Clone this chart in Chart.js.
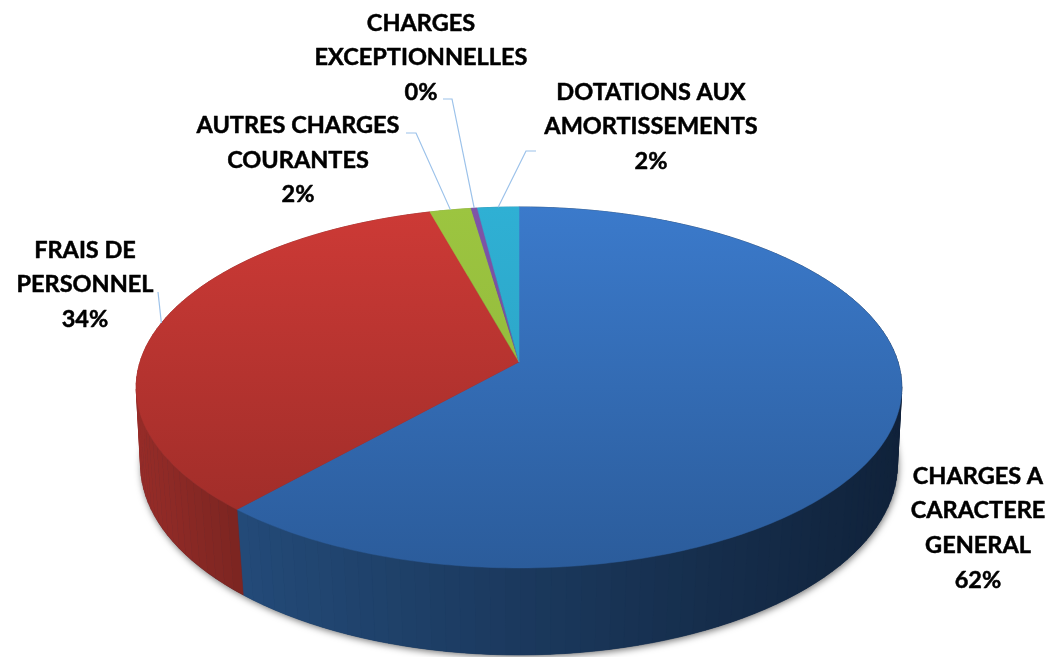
<!DOCTYPE html>
<html><head><meta charset="utf-8">
<style>html,body{margin:0;padding:0;background:#fff}canvas{display:block}</style>
<script src="https://cdn.jsdelivr.net/npm/chart.js@4/dist/chart.umd.min.js"></script>
</head><body>
<canvas id="c" width="1053" height="657" style="width:1053px;height:657px"></canvas>
<script>
const categories = ["CHARGES A CARACTERE GENERAL","FRAIS DE PERSONNEL","AUTRES CHARGES COURANTES","CHARGES EXCEPTIONNELLES","DOTATIONS AUX AMORTISSEMENTS"];
const values = [61.6, 34.1, 2.0, 0.3, 2.0];
const pctLabels = ["62%","34%","2%","0%","2%"];
const labelLines = [["CHARGES A","CARACTERE","GENERAL"],["FRAIS DE","PERSONNEL"],["AUTRES CHARGES","COURANTES"],["CHARGES","EXCEPTIONNELLES"],["DOTATIONS AUX","AMORTISSEMENTS"]];
const labelCentersX = [978, 85, 298, 421, 651];
const labelFirstY = [476, 250, 125.5, 23, 92];
const lineStep = 34.7;
const leaderBends = [null, [[158,292]], [[416,133],[406,133]], [[452,99],[443,99]], [[526,151],[536,151]]];
const topColors = [["#3b7acb","#2b5c9b"],["#cd3a36","#992b27"],["#9cc540","#8db23a"],["#7f55a8","#6d4592"],["#2fb0d4","#2a9cbc"]];
const wallColors = [["#234a78","#10223a"],["#962c28","#7c2521"],["#7c9a30","#7c9a30"],["#5d3a80","#5d3a80"],["#21839f","#21839f"]];
const sliceColors = ["#3b78c6","#c43a36","#9bc33f","#7a4fa0","#2eaed2"];

const view = {cx:519, cy:362, A:379, B:176.9, k:0.141, cy2:440.8, A2:375.5, B2:187.4, k2:0.125, top:207, bottom:568};
const fontSpec = 'bold 23.5px Lato, sans-serif';

function pTop(a){const u=Math.cos(a),v=Math.sin(a),w=1-view.k*v;return [view.cx+view.A*u/w, view.cy+view.B*v/w];}
function pBot(a){const u=Math.cos(a),v=Math.sin(a),w=1-view.k2*v;return [view.cx+view.A2*u/w, view.cy2+view.B2*v/w];}
function hex(c){return [1,3,5].map(i=>parseInt(c.substr(i,2),16));}
function mix(a,b,t){const x=hex(a),y=hex(b);return 'rgb('+x.map((n,i)=>Math.round(n+(y[i]-n)*t)).join(',')+')';}

const pie3d = {
  id:'pie3d',
  beforeDatasetsDraw(chart){
    const ctx=chart.ctx, arcs=chart.getDatasetMeta(0).data;
    ctx.save();
    ctx.save();
    ctx.shadowColor='rgba(0,0,0,0.55)';ctx.shadowBlur=7;ctx.shadowOffsetX=1;ctx.shadowOffsetY=2;
    ctx.fillStyle='#1a3050';ctx.beginPath();
    for(let i=0;i<=360;i++){const p=pBot(i*Math.PI/180);i?ctx.lineTo(p[0],p[1]):ctx.moveTo(p[0],p[1]);}
    ctx.closePath();ctx.fill();ctx.restore();
    arcs.forEach((arc,i)=>{
      const s=arc.startAngle,e=arc.endAngle,n=Math.max(2,Math.ceil((e-s)/(Math.PI/90)));
      let xmin=1e9,xmax=-1e9;
      for(let j=0;j<=n;j++){const a=s+(e-s)*j/n;if(Math.sin(a)>=0){const x=pTop(a)[0];xmin=Math.min(xmin,x);xmax=Math.max(xmax,x);}}
      for(let j=0;j<n;j++){
        const a0=s+(e-s)*j/n,a1=s+(e-s)*(j+1)/n;
        const p0=pTop(a0),p1=pTop(a1),q0=pBot(a0),q1=pBot(a1);
        const t=xmax>xmin?Math.min(1,Math.max(0,((p0[0]+p1[0])/2-xmin)/(xmax-xmin))):0;
        const col=mix(wallColors[i][0],wallColors[i][1],t);
        ctx.fillStyle=col;ctx.strokeStyle=col;ctx.lineWidth=0.6;
        ctx.beginPath();ctx.moveTo(p0[0],p0[1]);ctx.lineTo(p1[0],p1[1]);ctx.lineTo(q1[0],q1[1]);ctx.lineTo(q0[0],q0[1]);ctx.closePath();ctx.fill();ctx.stroke();
      }
    });
    arcs.forEach((arc,i)=>{
      const s=arc.startAngle,e=arc.endAngle,n=Math.max(4,Math.ceil((e-s)/(Math.PI/180)));
      const g=ctx.createLinearGradient(0,view.top,0,view.bottom);
      g.addColorStop(0,topColors[i][0]);g.addColorStop(1,topColors[i][1]);
      ctx.fillStyle=g;ctx.strokeStyle=g;ctx.lineWidth=0.5;
      ctx.beginPath();ctx.moveTo(view.cx,view.cy);
      for(let j=0;j<=n;j++){const p=pTop(s+(e-s)*j/n);ctx.lineTo(p[0],p[1]);}
      ctx.closePath();ctx.fill();ctx.stroke();
    });
    ctx.strokeStyle='#9cc2ea';ctx.lineWidth=1.2;
    arcs.forEach((arc,i)=>{
      if(!leaderBends[i])return;
      const p=pTop((arc.startAngle+arc.endAngle)/2);
      ctx.beginPath();ctx.moveTo(p[0],p[1]);
      leaderBends[i].forEach(b=>ctx.lineTo(b[0],b[1]));
      ctx.stroke();
    });
    ctx.fillStyle='#000';ctx.strokeStyle='#000';ctx.lineWidth=0.5;ctx.lineJoin='round';
    ctx.font=fontSpec;ctx.textAlign='center';ctx.textBaseline='middle';
    categories.forEach((c,i)=>{
      labelLines[i].concat(pctLabels[i]).forEach((t,j)=>{
        const y=labelFirstY[i]+j*lineStep;
        ctx.fillText(t,labelCentersX[i],y);
        ctx.strokeText(t,labelCentersX[i],y);
      });
    });
    ctx.restore();
    return false;
  }
};

new Chart(document.getElementById('c'),{
  type:'pie',
  data:{labels:categories,datasets:[{data:values,backgroundColor:sliceColors,borderWidth:0}]},
  options:{responsive:false,animation:false,plugins:{legend:{display:false},tooltip:{enabled:false}}},
  plugins:[pie3d]
});
</script>
</body></html>
